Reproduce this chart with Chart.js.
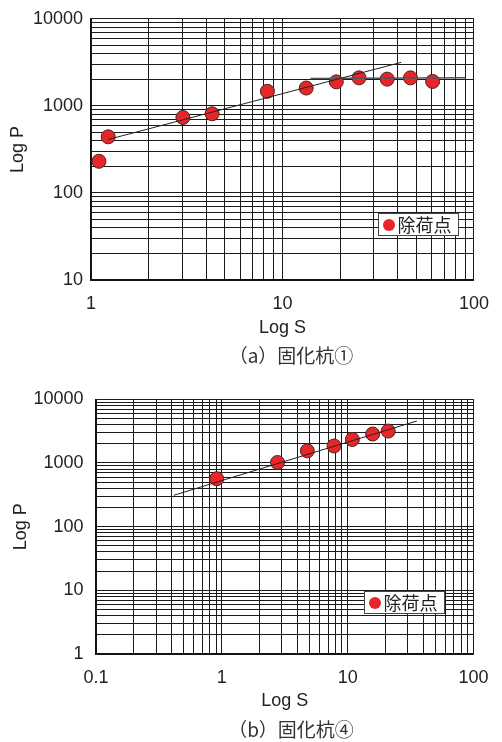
<!DOCTYPE html>
<html>
<head>
<meta charset="utf-8">
<script src="https://cdn.jsdelivr.net/npm/chart.js@4"></script>
<style>
  body { margin: 0; background: #fff; width: 502px; height: 742px; position: relative; overflow: hidden; }
  canvas { position: absolute; left: 0; }
  .cap { position: absolute; left: 40px; width: 502px; text-align: center; font-family: "Noto Sans CJK JP"; font-size: 19px; line-height: 19px; color: #333; }
</style>
</head>
<body>
<canvas id="chartA" width="502" height="345" style="top:0px"></canvas>
<div class="cap" style="top:345px">（a）固化杭①</div>
<canvas id="chartB" width="502" height="345" style="top:376px"></canvas>
<div class="cap" style="top:719px">（b）固化杭④</div>
<script>
'use strict'

// tick labels (decades)
var xLabelsA = [1, 10, 100];
var yLabelsA = [10, 100, 1000, 10000];
var xLabelsB = [0.1, 1, 10, 100];
var yLabelsB = [1, 10, 100, 1000, 10000];

var legendText = '除荷点';

// (a) 固化杭①
var sA = [1.10, 1.23, 3.02, 4.29, 8.34, 13.3, 19.1, 25.1, 35.2, 46.6, 60.8];
var pA = [231, 441, 736, 811, 1469, 1602, 1888, 2097, 2028, 2097, 1908];
var fitA1S = [1.23, 41.7];
var fitA1P = [411, 3162];
var fitA2S = [14.0, 89.9];
var fitA2P = [2065, 2097];

// (b) 固化杭④
var sB = [0.91, 2.77, 4.78, 7.79, 10.9, 15.8, 21.0];
var pB = [566, 1018, 1552, 1850, 2340, 2851, 3170];
var fitBS = [0.415, 35.5];
var fitBP = [311, 4570];


// grid positions 1..9 x each decade
function gridValues(decades) {
    var out = [];
    for (var i = 0; i < decades.length - 1; i++) {
        for (var k = 1; k <= 9; k++) out.push(decades[i] * k);
    }
    out.push(decades[decades.length - 1]);
    return out;
}

function toPoints(xs, ys) {
    return xs.map(function (x, i) { return { x: x, y: ys[i] }; });
}

var legendBox = {
    id: 'legendBox',
    afterDraw: function (chart, args, o) {
        var a = chart.chartArea, ctx = chart.ctx;
        var x = Math.round(a.left + o.fx * (a.right - a.left)) + 0.5;
        var y = Math.round(a.top + o.fy * (a.bottom - a.top)) + 0.5;
        var ds = chart.data.datasets[chart.data.datasets.length - 1];
        ctx.save();
        ctx.fillStyle = '#fff';
        ctx.strokeStyle = '#444';
        ctx.lineWidth = 1;
        ctx.fillRect(x, y, 80, 22);
        ctx.strokeRect(x, y, 80, 22);
        ctx.beginPath();
        ctx.arc(x + 10.5, y + 11.5, 6, 0, Math.PI * 2);
        ctx.fillStyle = '#e8262a';
        ctx.fill();
        ctx.fillStyle = '#222';
        ctx.font = '18px "Noto Sans CJK JP"';
        ctx.textBaseline = 'middle';
        ctx.fillText(ds.label, x + 19, y + 12);
        ctx.restore();
    }
};

var tickFont = { family: 'Liberation Sans', size: 18 };

function buildChart(id, c) {
    var datasets = [];
    c.fits.forEach(function (f) {
        datasets.push({
            type: 'line',
            data: toPoints(f.s, f.p),
            borderColor: f.color,
            borderWidth: f.width,
            pointRadius: 0,
            fill: false,
            order: 0
        });
    });
    datasets.push({
        type: 'scatter',
        label: legendText,
        data: toPoints(c.s, c.p),
        backgroundColor: '#e8262a',
        borderColor: '#4a2222',
        borderWidth: 1,
        pointRadius: 7,
        order: 1
    });

    return new Chart(document.getElementById(id), {
        type: 'scatter',
        data: { datasets: datasets },
        plugins: [legendBox],
        options: {
            responsive: false,
            animation: false,
            layout: { padding: { left: 0, top: 16, right: c.padRight, bottom: 0 } },
            plugins: {
                legend: { display: false },
                tooltip: { enabled: false },
                legendBox: { fx: c.legX, fy: c.legY }
            },
            scales: {
                x: {
                    type: 'logarithmic',
                    min: c.xLabels[0],
                    max: c.xLabels[c.xLabels.length - 1],
                    afterBuildTicks: function (s) {
                        s.ticks = gridValues(c.xLabels).map(function (v) { return { value: v }; });
                    },
                    afterFit: function (s) { s.height = c.xHeight; },
                    ticks: {
                        autoSkip: false,
                        maxRotation: 0,
                        padding: c.xTickPad,
                        color: '#222',
                        font: tickFont,
                        callback: function (v) { return c.xLabels.indexOf(v) >= 0 ? String(v) : ''; }
                    },
                    grid: { color: '#1a1a1a', lineWidth: 1, drawTicks: false },
                    border: { color: '#111', width: 1.5 },
                    title: {
                        display: true,
                        text: 'Log S',
                        color: '#222',
                        font: tickFont,
                        padding: { top: 0, bottom: c.xTitlePad }
                    }
                },
                y: {
                    type: 'logarithmic',
                    min: c.yLabels[0],
                    max: c.yLabels[c.yLabels.length - 1],
                    afterBuildTicks: function (s) {
                        s.ticks = gridValues(c.yLabels).map(function (v) { return { value: v }; });
                    },
                    afterFit: function (s) { s.width = c.yWidth; },
                    ticks: {
                        autoSkip: false,
                        padding: c.yTickPad,
                        color: '#222',
                        font: tickFont,
                        callback: function (v) { return c.yLabels.indexOf(v) >= 0 ? String(v) : ''; }
                    },
                    grid: { color: '#1a1a1a', lineWidth: 1, drawTicks: false },
                    border: { color: '#111', width: 1.5 },
                    title: {
                        display: true,
                        text: 'Log P',
                        color: '#222',
                        font: tickFont,
                        padding: { top: c.yTitlePad, bottom: 0 }
                    }
                }
            }
        }
    });
}

buildChart('chartA', {
    s: sA, p: pA,
    fits: [
        { s: fitA1S, p: fitA1P, color: '#222', width: 1 },
        { s: fitA2S, p: fitA2P, color: '#555', width: 1.5 }
    ],
    xLabels: xLabelsA, yLabels: yLabelsA,
    padRight: 23, xHeight: 65, yWidth: 91,
    xTickPad: 13, yTickPad: 8, xTitlePad: 5.8, yTitlePad: 7.3,
    legX: 0.75, legY: 0.742
});

buildChart('chartB', {
    s: sB, p: pB,
    fits: [
        { s: fitBS, p: fitBP, color: '#222', width: 1 }
    ],
    xLabels: xLabelsB, yLabels: yLabelsB,
    padRight: 19, xHeight: 67, yWidth: 96,
    xTickPad: 13.5, yTickPad: 12.5, xTitlePad: 8.8, yTitlePad: 10.5,
    legX: 0.7106, legY: 0.752
});
</script>
</body>
</html>
